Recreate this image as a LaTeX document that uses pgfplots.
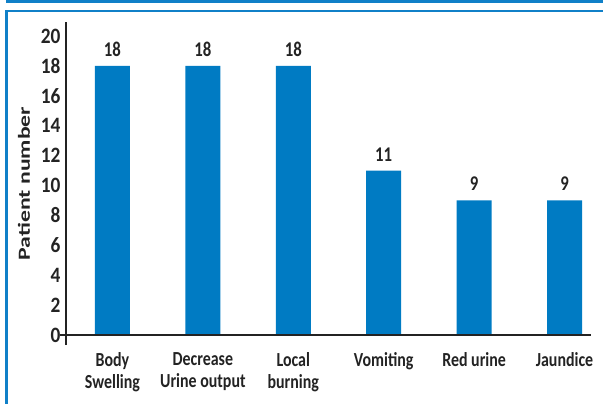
\documentclass[border=0pt]{standalone}
\usepackage{fontspec}
\setmainfont{Carlito}[FakeStretch=0.8]
\newfontfamily\tickfont{Carlito}[FakeStretch=0.88]
\newfontfamily\ylabfont{Carlito}[FakeStretch=1.4]
\usepackage{pgfplots}
\pgfplotsset{compat=1.18}
\definecolor{barblue}{RGB}{0,123,195}
\definecolor{frameblue}{RGB}{16,128,200}
\definecolor{axisgray}{RGB}{35,35,35}
\begin{document}
\begin{tikzpicture}
\useasboundingbox (0bp,0bp) rectangle (603bp,404bp);
\fill[frameblue] (6bp,401bp) rectangle (603bp,403.5bp);
\fill[frameblue] (5bp,391.5bp) rectangle (603bp,394bp);
\fill[frameblue] (5bp,0bp) rectangle (7.5bp,394bp);
\begin{axis}[
  at={(66bp,59bp)}, anchor=south west,
  width=525bp, height=323bp, scale only axis,
  xmin=-0.514, xmax=5.293, ymin=-0.67, ymax=20.94,
  /pgf/number format/assume math mode=true,
  axis y line*=left, axis x line*=bottom,
  x axis line style={draw=none},
  y axis line style={line width=1.6bp, axisgray},
  xtick={0,1,2,3,4,5},
  xticklabels={{Body\\Swelling},{Decrease\\Urine output},{Local\\burning},{Vomiting},{Red urine},{Jaundice}},
  xticklabel style={align=center, font=\bfseries\fontsize{20}{22}\selectfont, text=axisgray, anchor=north, yshift=-4bp},
  x tick style={draw=none},
  ytick={0,2,...,20},
  y tick style={draw=none},
  yticklabel style={font=\tickfont\bfseries\fontsize{22}{22}\selectfont, text=axisgray, xshift=-2bp},
  extra y ticks={0,1.87,5.48,9.16,12.78,16.45,20},
  extra y tick labels={},
  extra y tick style={major tick length=6bp, tick align=outside, tick style={draw=axisgray, line width=1.2bp}},
  ylabel={Patient number},
  ylabel style={font=\ylabfont\bfseries\fontsize{17}{17}\selectfont, text=axisgray, yshift=-2bp},
  clip=false,
]
\addplot[ybar, bar width=0.387, fill=barblue, draw=none,
  nodes near coords,
  every node near coord/.append style={font=\bfseries\fontsize{21}{21}\selectfont, text=axisgray, yshift=6bp}]
  coordinates {(0,18) (1,18) (2,18) (3,11) (4,9) (5,9)};
\draw[axisgray, line width=1.6bp] ([xshift=-6bp]axis cs:-0.514,0) -- (axis cs:5.293,0);
\end{axis}
\end{tikzpicture}
\end{document}
